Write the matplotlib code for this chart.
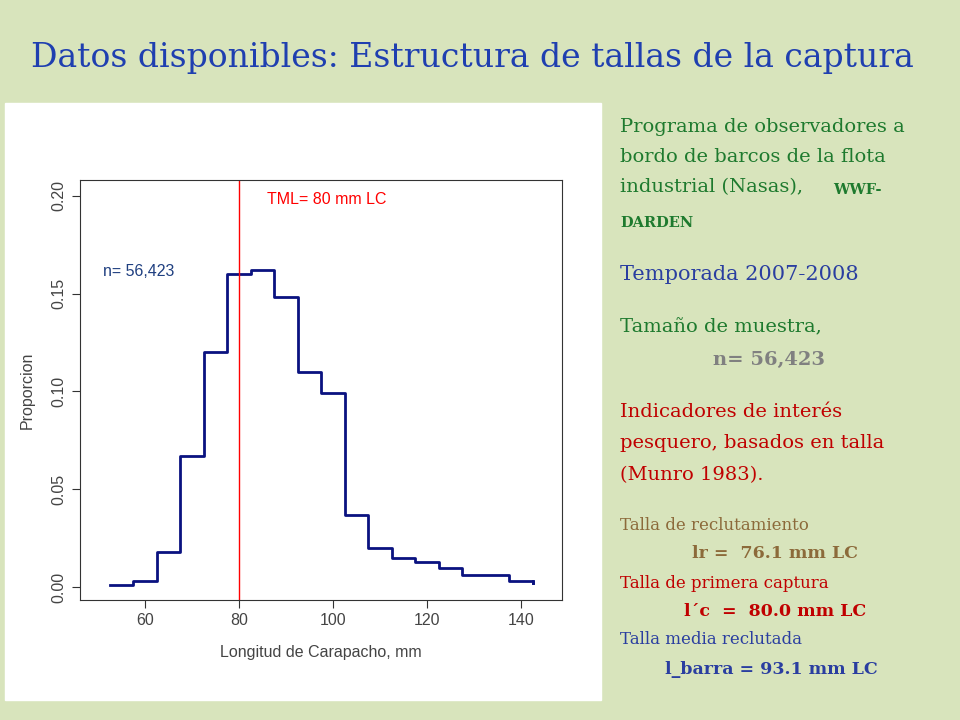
import matplotlib
matplotlib.use("Agg")
import matplotlib.pyplot as plt
from matplotlib.patches import Rectangle

edges = [52.5,57.5,62.5,67.5,72.5,77.5,82.5,87.5,92.5,97.5,102.5,107.5,112.5,117.5,122.5,127.5,132.5,137.5,142.5]
props = [0.001,0.003,0.018,0.067,0.120,0.160,0.162,0.148,0.110,0.099,0.037,0.020,0.015,0.013,0.0095,0.006,0.006,0.003]
end_value = 0.002
xticks = [60,80,100,120,140]
yticks = [0.00,0.05,0.10,0.15,0.20]
tml = 80

plt.rcParams["font.family"] = "Liberation Sans"
bg = "#d8e4bc"
fig = plt.figure(figsize=(9.6,7.2), dpi=100, facecolor=bg)
fig.patches.append(Rectangle((5/960, 20/720), 596/960, 597/720, transform=fig.transFigure, color="white", zorder=-10))

fig.text(0.032, 0.92, "Datos disponibles: Estructura de tallas de la captura", fontsize=23.8,
         color="#1f3fb0", family="DejaVu Serif", va="center")

ax = fig.add_axes([80/960, 1-600/720, 482/960, 420/720])
ax.step(edges, props + [end_value], where="post", color="#0a1280", lw=2)
ax.plot([edges[-1], edges[-1]], [props[-1], end_value], color="#0a1280", lw=2)
ax.axvline(tml, color="red", lw=1)
ax.text(86, 0.198, "TML= 80 mm LC", color="red", fontsize=11.5, va="center")
ax.text(51, 0.161, "n= 56,423", color="#1f3f80", fontsize=11.5, va="center")
ax.set_xlim(46.2, 148.7)
ax.set_ylim(-0.0066, 0.208)
ax.set_xticks(xticks)
ax.set_yticks(yticks)
ax.set_yticklabels([f"{v:.2f}" for v in yticks], rotation=90, va="center")
ax.tick_params(labelsize=11.5, direction="out", length=6, colors="#333333", labelcolor="#444444")
ax.set_xlabel("Longitud de Carapacho, mm", fontsize=11.5, color="#444444", labelpad=12)
ax.set_ylabel("Proporcion", fontsize=11.5, color="#444444", labelpad=12)
for s in ax.spines.values():
    s.set_color("#333333")

serif = "DejaVu Serif"
green = "#1e7a2e"
def t(y, s, c, size=14, x=620, **kw):
    fig.text(x/960, 1-y/720, s, color=c, fontsize=size, family=serif, va="center", **kw)

t(127, "Programa de observadores a", green)
t(157, "bordo de barcos de la flota", green)
t(187, "industrial (Nasas), ", green)
fig.text(833/960, 1-190/720, "WWF-", color=green, fontsize=10.5, family=serif, weight="bold", va="center")
t(223, "DARDEN", green, size=10.5, weight="bold")
t(275, "Temporada 2007-2008", "#2a3ea0", size=15)
t(327, "Tamaño de muestra,", green)
t(360, "n= 56,423", "#808080", size=14, x=713, weight="bold")
t(412, "Indicadores de interés", "#c00000")
t(443, "pesquero, basados en talla", "#c00000")
t(475, "(Munro 1983).", "#c00000")
t(525, "Talla de reclutamiento", "#8c6a3a", size=12)
t(553, "lr =  76.1 mm LC", "#8c6a3a", size=12.5, x=692, weight="bold")
t(583, "Talla de primera captura", "#c00000", size=12)
t(611, "l´c  =  80.0 mm LC", "#c00000", size=12.5, x=684, weight="bold")
t(640, "Talla media reclutada", "#2a3ea0", size=12)
t(670, "l_barra = 93.1 mm LC", "#2a3ea0", size=12.5, x=665, weight="bold")

fig.savefig("out.png", dpi=100, facecolor=bg)
